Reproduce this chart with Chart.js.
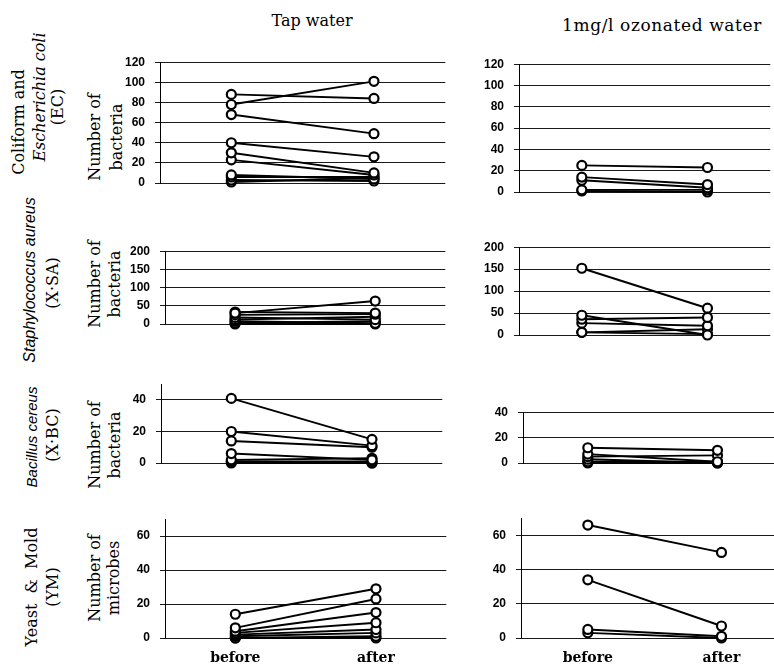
<!DOCTYPE html>
<html>
<head>
<meta charset="utf-8">
<script src="https://cdn.jsdelivr.net/npm/chart.js@4"></script>
<style>
html, body { margin: 0; padding: 0; background: #fff; overflow: hidden; }
#page { position: relative; width: 774px; height: 667px; overflow: hidden; background: #fff; }
.box { position: absolute; }
.lbl { position: absolute; white-space: nowrap; transform: translate(-50%, -50%) rotate(-90deg);
       font-family: "DejaVu Serif", serif; font-size: 16px; color: #000; }
.sans { font-family: "Liberation Sans", sans-serif; font-style: italic; }
.head { position: absolute; white-space: nowrap; transform: translate(-50%, -50%);
        font-family: "DejaVu Serif", serif; font-size: 16px; color: #000; }
</style>
</head>
<body>
<div id="page">
  <div class="head" style="left:312px;top:20px">Tap water</div>
  <div class="head" style="left:662px;top:25px;font-size:17px;letter-spacing:0.6px">1mg/l ozonated water</div>

  <div class="lbl" style="left:18px;top:122px">Coliform and</div>
  <div class="lbl" style="left:39px;top:97px"><i>Escherichia coli</i></div>
  <div class="lbl" style="left:57px;top:107px">(EC)</div>
  <div class="lbl sans" style="left:30px;top:280px;font-size:16px">Staphylococcus aureus</div>
  <div class="lbl" style="left:52px;top:283px">(X·SA)</div>
  <div class="lbl sans" style="left:31px;top:437px;font-size:15px">Bacillus cereus</div>
  <div class="lbl" style="left:52px;top:435px">(X·BC)</div>
  <div class="lbl" style="left:31px;top:587px">Yeast &nbsp;&amp;&nbsp; Mold</div>
  <div class="lbl" style="left:52px;top:587px">(YM)</div>

  <div class="lbl" style="left:94px;top:137px">Number of</div>
  <div class="lbl" style="left:116px;top:137px">bacteria</div>
  <div class="lbl" style="left:94px;top:284px">Number of</div>
  <div class="lbl" style="left:114px;top:284px">bacteria</div>
  <div class="lbl" style="left:94px;top:445px">Number of</div>
  <div class="lbl" style="left:114px;top:445px">bacteria</div>
  <div class="lbl" style="left:94px;top:578px">Number of</div>
  <div class="lbl" style="left:113px;top:578px">microbes</div>
</div>
<script>
const phases = ['before', 'after'];

// Coliform and Escherichia coli (EC)
const ecTapBefore = [88, 78, 68, 40, 30, 23, 8, 6, 3, 1];
const ecTapAfter = [84, 101, 49, 26, 10, 8, 4, 6, 2, 5];
const ecOzoneBefore = [25, 14, 11, 2, 1];
const ecOzoneAfter = [23, 7, 4, 2, 0];
const ecTicks = [0, 20, 40, 60, 80, 100, 120];

// Staphylococcus aureus (X-SA)
const saTapBefore = [30, 33, 25, 18, 12, 8, 3, 0];
const saTapAfter = [63, 30, 27, 12, 20, 2, 8, 0];
const saOzoneBefore = [152, 45, 36, 27, 6, 6];
const saOzoneAfter = [61, 0, 40, 21, 13, 2];
const saTicks = [0, 50, 100, 150, 200];

// Bacillus cereus (X-BC)
const bcTapBefore = [41, 20, 14, 6, 2, 1, 1, 0];
const bcTapAfter = [15, 11, 10, 2, 3, 1, 0, 0];
const bcOzoneBefore = [12, 7, 5, 3, 1, 0];
const bcOzoneAfter = [10, 1, 6, 0, 1, 0];
const bcTicks = [0, 20, 40];

// Yeast & Mold (YM)
const ymTapBefore = [14, 6, 4, 3, 2, 1, 0, 0];
const ymTapAfter = [29, 23, 15, 9, 5, 3, 1, 0];
const ymOzoneBefore = [66, 34, 5, 3];
const ymOzoneAfter = [50, 7, 1, 0];
const ymTicks = [0, 20, 40, 60];

// plot area of each panel: [left, top, right, bottom] in page pixels
const panels = [
    { before: ecTapBefore, after: ecTapAfter, ticks: ecTicks, max: 120, area: [160, 55, 452, 213] },
    { before: ecOzoneBefore, after: ecOzoneAfter, ticks: ecTicks, max: 120, area: [519, 57, 777, 222] },
    { before: saTapBefore, after: saTapAfter, ticks: saTicks, max: 200, area: [165, 244, 452, 354] },
    { before: saOzoneBefore, after: saOzoneAfter, ticks: saTicks, max: 200, area: [519, 240, 777, 365] },
    { before: bcTapBefore, after: bcTapAfter, ticks: bcTicks, max: 50, area: [161, 377, 449, 493] },
    { before: bcOzoneBefore, after: bcOzoneAfter, ticks: bcTicks, max: 40, area: [523, 405, 789, 493] },
    { before: ymTapBefore, after: ymTapAfter, ticks: ymTicks, max: 70, area: [165, 512, 453, 638], showX: true },
    { before: ymOzoneBefore, after: ymOzoneAfter, ticks: ymTicks, max: 70, area: [521, 511, 795, 638], showX: true }
];

const page = document.getElementById('page');
const YW = 45, PT = 10, PB = 10, XH = 30;

function makePanel(p) {
    const [l, t, r, b] = p.area;
    const div = document.createElement('div');
    div.className = 'box';
    div.style.left = (l - YW) + 'px';
    div.style.top = (t - PT) + 'px';
    const cv = document.createElement('canvas');
    cv.width = r - l + YW;
    cv.height = b - t + PT + (p.showX ? XH : PB);
    div.appendChild(cv);
    page.appendChild(div);

    const datasets = p.before.map((v, i) => ({
        data: [v, p.after[i]],
        borderColor: '#000',
        borderWidth: 1.9,
        pointRadius: 4.5,
        pointBorderWidth: 2.2,
        pointBorderColor: '#000',
        pointBackgroundColor: '#fff',
        tension: 0,
        clip: false
    }));

    new Chart(cv, {
        type: 'line',
        data: { labels: phases, datasets: datasets },
        options: {
            responsive: false,
            animation: false,
            layout: { padding: { top: PT, bottom: p.showX ? 0 : PB, left: 0, right: 0 } },
            plugins: { legend: { display: false }, tooltip: { enabled: false } },
            scales: {
                x: {
                    type: 'category',
                    offset: true,
                    display: !!p.showX,
                    grid: { display: false, drawTicks: false },
                    border: { display: false },
                    ticks: {
                        padding: 12,
                        color: '#000',
                        font: { family: 'DejaVu Serif', size: 14, weight: 'bold' }
                    },
                    afterFit: s => { s.height = XH; }
                },
                y: {
                    min: 0,
                    max: p.max,
                    afterBuildTicks: s => { s.ticks = p.ticks.map(v => ({ value: v })); },
                    afterFit: s => { s.width = YW; },
                    grid: { color: '#1a1a1a', lineWidth: 1, tickLength: 5 },
                    border: { color: '#000', width: 1 },
                    ticks: {
                        padding: 10,
                        color: '#000',
                        font: { family: 'Liberation Sans', size: 12, weight: 'bold' }
                    }
                }
            }
        }
    });
}

panels.forEach(makePanel);
</script>
</body>
</html>
